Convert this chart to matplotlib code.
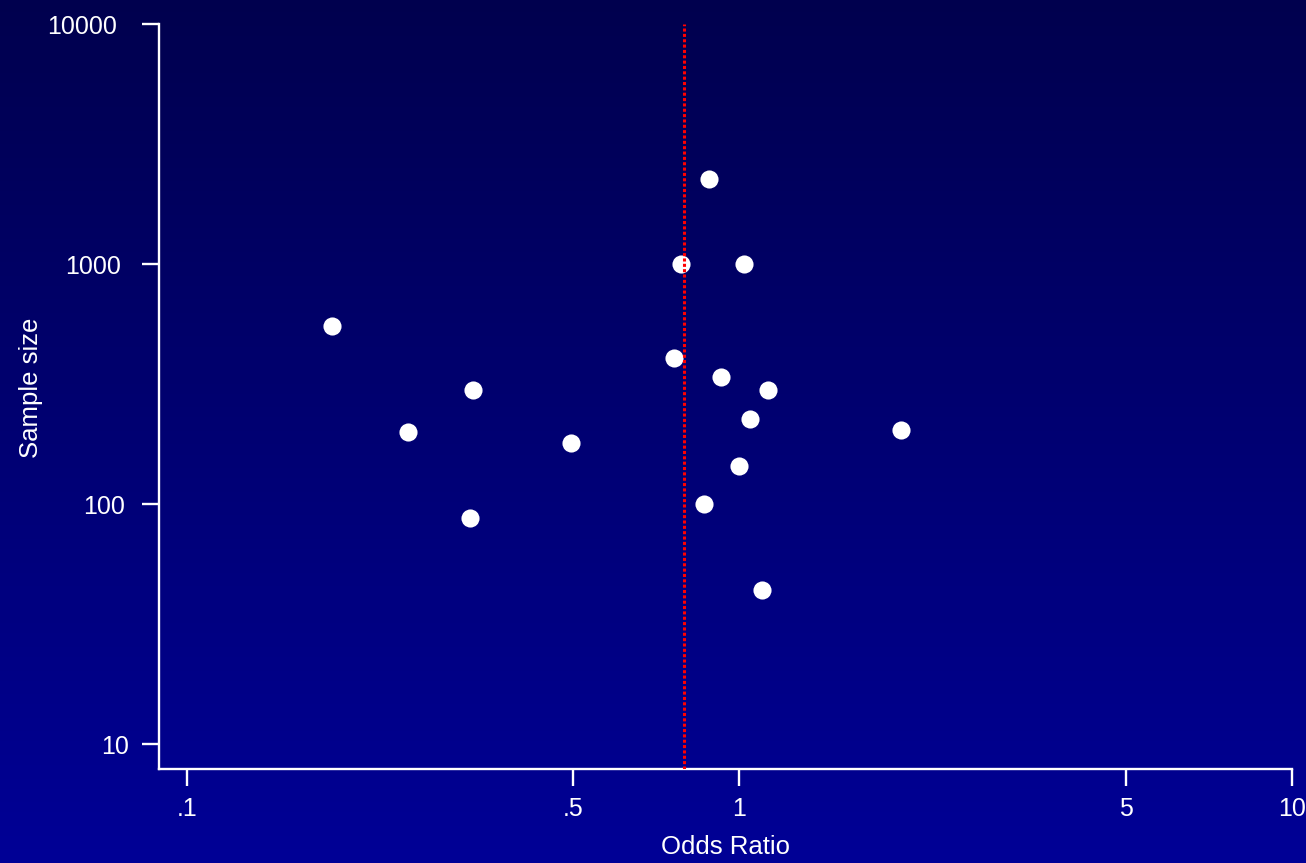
import matplotlib
matplotlib.use("Agg")
import matplotlib.pyplot as plt
import matplotlib.transforms as mtransforms
import numpy as np

plt.rcParams['font.family'] = ['Liberation Sans', 'DejaVu Sans']

# study results: odds ratio vs sample size
odds_ratio = [0.879, 0.785, 1.021, 0.183, 0.760, 0.924, 1.124, 0.330,
              1.043, 0.251, 1.963, 0.495, 1.000, 0.861, 0.325, 1.100]
sample_size = [2265, 1000, 1005, 554, 407, 340, 300, 300,
               227, 200, 204, 180, 144, 100, 88, 44]
pooled_or = 0.795

xticks = [0.1, 0.5, 1, 5, 10]
xticklabels = ['.1', '.5', '1', '5', '10']
yticks = [10, 100, 1000, 10000]
yticklabels = ['10', '100', '1000', '10000']

fig = plt.figure(figsize=(13.06, 8.63), dpi=100)

# gradient background
bg = fig.add_axes([0, 0, 1, 1])
grad = np.linspace(0, 1, 256).reshape(-1, 1)
top = np.array([0, 0, 78]) / 255
bot = np.array([0, 0, 150]) / 255
img = top + grad[..., None] * (bot - top)
bg.imshow(img, aspect='auto', extent=[0, 1, 0, 1])
bg.axis('off')

W, H = 1306, 863
ax = fig.add_axes([159 / W, (H - 769) / H, (1292 - 159) / W, (769 - 24) / H])
ax.patch.set_alpha(0)
ax.set_xscale('log')
ax.set_yscale('log')
ax.set_xlim(0.089, 10)
ax.set_ylim(7.9, 10000)

ax.scatter(odds_ratio, sample_size, s=170, color='white', zorder=3, linewidths=0)
ax.plot([pooled_or, pooled_or], [7.9, 10000], color='#ff0000',
        linestyle=(0, (1, 0.75)), dash_capstyle='butt',
        linewidth=2.2, zorder=4)

ax.set_xticks(xticks)
ax.set_xticklabels(xticklabels)
ax.set_yticks(yticks)
ax.set_yticklabels(yticklabels)
ax.minorticks_off()

for s in ['top', 'right']:
    ax.spines[s].set_visible(False)
for s in ['left', 'bottom']:
    ax.spines[s].set_color('white')
    ax.spines[s].set_linewidth(1.7)
ax.spines['bottom'].set_bounds(0.089, 10)
ax.spines['left'].set_bounds(7.9, 10000)

ax.tick_params(colors='white', labelsize=18, length=12, width=1.7)
ax.tick_params(axis='x', pad=8)
ax.tick_params(axis='y', pad=18.5)

# y labels sit a bit further right the shorter they are
for lab, dx in zip(ax.get_yticklabels(), [12, 8, 4, 0]):
    lab.set_transform(lab.get_transform() +
                      mtransforms.ScaledTranslation(dx / 100, 0, fig.dpi_scale_trans))

ax.set_xlabel('Odds Ratio', color='white', fontsize=18.5)
ax.xaxis.set_label_coords(0.5, (769 - 847) / 745)
ax.xaxis.label.set_va('center')
ax.set_ylabel('Sample size', color='white', fontsize=18.5)
ax.yaxis.set_label_coords((31 - 159) / 1133, (769 - 388) / 745)
ax.yaxis.label.set_va('center')

fig.savefig('out.png', dpi=100)
